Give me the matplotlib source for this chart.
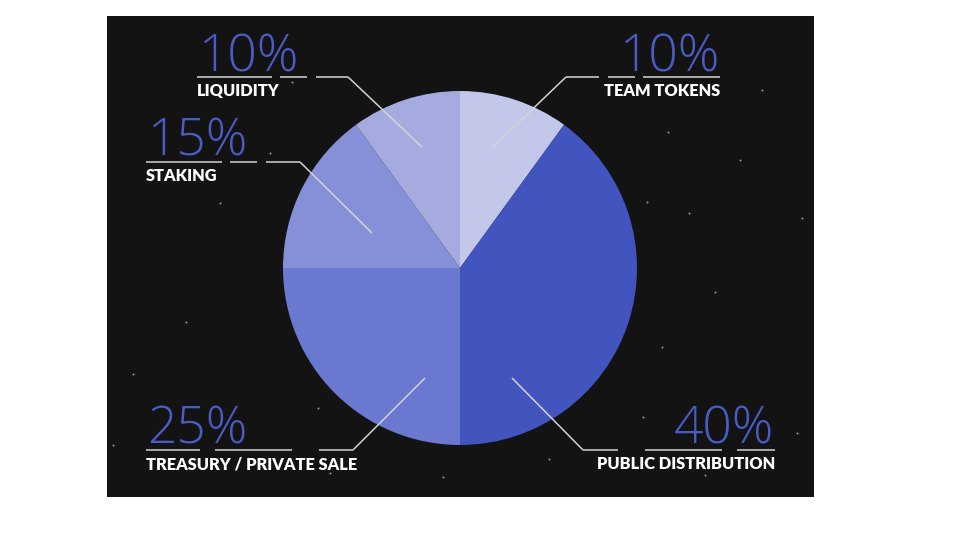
import matplotlib
matplotlib.use("Agg")
import matplotlib.pyplot as plt
from matplotlib.patches import Rectangle

# ── Data ─────────────────────────────────────────────────────────────────────
labels   = ["TEAM TOKENS", "PUBLIC DISTRIBUTION", "TREASURY / PRIVATE SALE",
            "STAKING", "LIQUIDITY"]
shares   = [10, 40, 25, 15, 10]
pct_text = ["10%", "40%", "25%", "15%", "10%"]
colors   = ["#c3c8ea", "#4254be", "#6b78cf", "#8590d8", "#a5abdf"]

# decorative star dots (pixel positions)
star_x = [762, 668, 740, 647, 689, 802, 715, 662, 292, 270, 220, 186,
          133, 318, 113, 443, 330, 643, 797, 549, 705]
star_y = [90, 132, 160, 202, 213, 218, 292, 347, 82, 153, 203, 322,
          374, 408, 445, 477, 473, 417, 433, 459, 475]

BG       = "#131313"
PCT_COL  = "#4a5cc4"
LINE     = "#d4d4d4"
FONT     = ["Lato", "DejaVu Sans"]
PCT_FONT = ["Open Sans", "DejaVu Sans"]

fig = plt.figure(figsize=(9.6, 5.4), dpi=100)
fig.patch.set_facecolor("white")
ax = fig.add_axes([0, 0, 1, 1])

ax.add_patch(Rectangle((107, 16), 707, 481, facecolor=BG, edgecolor="none", zorder=0))
ax.scatter(star_x, star_y, s=2, color="#9a9a9a", linewidths=0, zorder=1)

# y axis is inverted (pixel coords), so angles run mirrored:
# start at data -90 (= screen top) and go "counterclockwise" (= screen clockwise)
ax.pie(shares, colors=colors, startangle=-90, counterclock=True,
       center=(460, 268), radius=177, wedgeprops=dict(linewidth=0),
       normalize=True)

# ── Leader lines + labels ────────────────────────────────────────────────────
# (inner point, elbow point, underline segments, text x, alignment)
callouts = [
    ((493, 147), (566, 77), [(566, 599), (608, 635), (643, 720)], 720, "right"),
    ((512, 378), (583, 450), [(583, 618), (645, 722), (737, 775)], 775, "right"),
    ((425, 378), (353, 450), [(146, 200), (215, 292), (319, 353)], 146, "left"),
    ((372, 233), (300, 162), [(146, 222), (230, 257), (266, 300)], 146, "left"),
    ((422, 147), (348, 77), [(197, 272), (280, 307), (316, 348)], 197, "left"),
]

for (p0, p1, segs, tx, ha), lab, pct in zip(callouts, labels, pct_text):
    ax.plot([p0[0], p1[0]], [p0[1], p1[1]], color=LINE, lw=1.1,
            solid_capstyle="butt", zorder=3)
    ly = p1[1]
    for a, b in segs:
        ax.plot([a, b], [ly, ly], color=LINE, lw=1.1, solid_capstyle="butt", zorder=3)
    dx = 1 if ha == "left" else -1
    ax.text(tx + dx, ly - 6, pct, ha=ha, va="baseline", color=PCT_COL,
            fontsize=37, fontweight="light", family=PCT_FONT, zorder=4)
    ax.text(tx, ly + 6, lab, ha=ha, va="top", color="white",
            fontsize=11.8, fontweight="heavy", family=FONT, zorder=4)

ax.set_xlim(0, 960)
ax.set_ylim(540, 0)
ax.set_aspect("equal")
ax.axis("off")

fig.savefig("out.png", dpi=100, facecolor=fig.get_facecolor())
